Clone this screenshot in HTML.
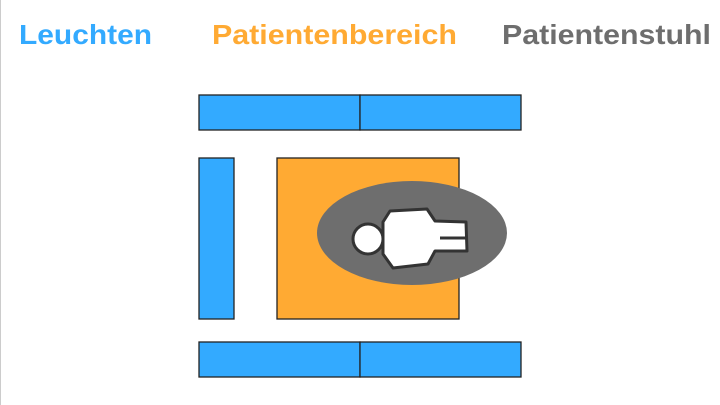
<html><body style="margin:0;width:720px;height:405px;background:#fff;overflow:hidden;position:relative">
<svg width="720" height="405" style="position:absolute;left:0;top:0">
<line x1="0.5" y1="0" x2="0.5" y2="405" stroke="#ccc"/>
<g font-family="Liberation Sans, sans-serif" font-weight="bold" font-size="28">
<text x="19" y="44" fill="#33aaff" textLength="133" lengthAdjust="spacingAndGlyphs">Leuchten</text>
<text x="212" y="44" fill="#ffaa33" textLength="245" lengthAdjust="spacingAndGlyphs">Patientenbereich</text>
<text x="502" y="44" fill="#6e6e6e" textLength="209" lengthAdjust="spacingAndGlyphs">Patientenstuhl</text>
</g>
<g fill="#33aaff" stroke="#222" stroke-width="1.3">
<rect x="199" y="95" width="161" height="35"/><rect x="360" y="95" width="161" height="35"/>
<rect x="199" y="342" width="161" height="35"/><rect x="360" y="342" width="161" height="35"/>
<rect x="199" y="158" width="35" height="161"/>
</g>
<rect x="277" y="158" width="182" height="161" fill="#ffaa33" stroke="#222" stroke-width="1.3"/>
<ellipse cx="412" cy="233" rx="95" ry="52" fill="#6e6e6e"/>
<g fill="#fff" stroke="#333" stroke-width="3" stroke-linejoin="round">
<path d="M383 222 L390 211 L427 209 L435 221 L466 222 L467 251 L435 251 L428 264 L393 268 L383 254 Z"/>
<circle cx="368" cy="239" r="15"/>
<line x1="440" y1="238" x2="466" y2="238"/>
</g>
</svg>
</body></html>
